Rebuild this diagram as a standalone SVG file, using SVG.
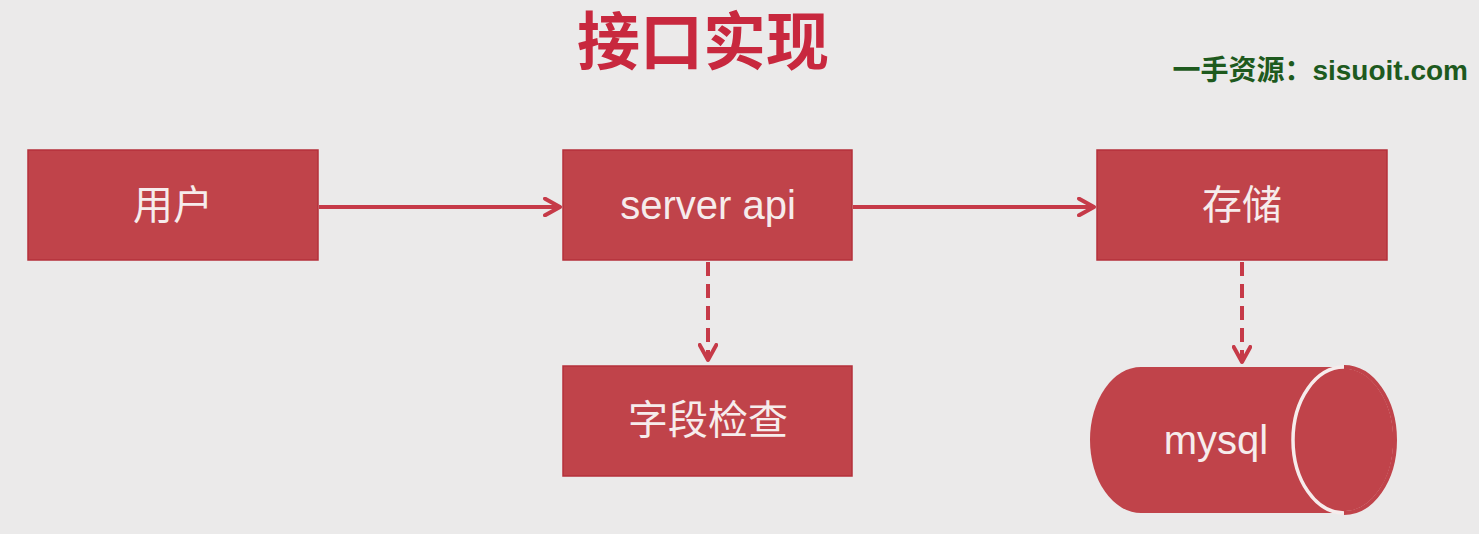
<svg xmlns="http://www.w3.org/2000/svg" width="1479" height="534" viewBox="0 0 1479 534">
<style>
.box{fill:#c0434a;stroke:#b5303b;stroke-width:1.5}
.lbl{font-family:"Liberation Sans","Noto Sans CJK SC",sans-serif;font-size:40px;fill:#f6ecec;text-anchor:middle;dominant-baseline:central}
.conn{stroke:#c63a48;stroke-width:4;fill:none}
.dash{stroke-dasharray:14 8}
</style>
<defs>
<marker id="ah" viewBox="0 0 12 12" refX="10" refY="6" markerWidth="5" markerHeight="5" orient="auto" markerUnits="strokeWidth">
<path d="M1,1 L10,6 L1,11" fill="none" stroke="#c63a48" stroke-width="2.4" stroke-linecap="round" stroke-linejoin="round"/>
</marker>
</defs>
<rect width="1479" height="534" fill="#ebeaea"/>
<text x="703" y="64" font-family="'Noto Sans CJK SC',sans-serif" font-weight="bold" font-size="63" fill="#c8283e" text-anchor="middle">接口实现</text>
<text x="1468" y="80" font-family="'Liberation Sans','Noto Sans CJK SC',sans-serif" font-weight="bold" font-size="28" fill="#1e5a1e" text-anchor="end">一手资源：sisuoit.com</text>
<g id="connectors">
<line class="conn" x1="319" y1="207" x2="560" y2="207" marker-end="url(#ah)"/>
<line class="conn" x1="853" y1="207" x2="1094" y2="207" marker-end="url(#ah)"/>
<line class="conn dash" x1="708" y1="262" x2="708" y2="360" marker-end="url(#ah)"/>
<line class="conn dash" x1="1242" y1="262" x2="1242" y2="362" marker-end="url(#ah)"/>
</g>
<g id="user"><rect class="box" x="28" y="150" width="290" height="110"/><text class="lbl" x="173" y="205">用户</text></g>
<g id="server"><rect class="box" x="563" y="150" width="289" height="110"/><text class="lbl" x="708" y="205">server api</text></g>
<g id="storage"><rect class="box" x="1097" y="150" width="290" height="110"/><text class="lbl" x="1242" y="205">存储</text></g>
<g id="check"><rect class="box" x="563" y="366" width="289" height="110"/><text class="lbl" x="708" y="420">字段检查</text></g>
<g id="mysql">
<path d="M1141,367 L1344,367 A51,73 0 0 1 1344,513 L1141,513 A51,73 0 0 1 1141,367 Z" fill="#c0434a"/>
<ellipse cx="1344" cy="440" rx="51" ry="73" fill="#c0434a" stroke="#f6ecec" stroke-width="3.5"/>
<path d="M1344,367 A51,73 0 0 1 1344,513" fill="none" stroke="#c0434a" stroke-width="4"/>
<text class="lbl" x="1216" y="440">mysql</text>
</g>
</svg>
